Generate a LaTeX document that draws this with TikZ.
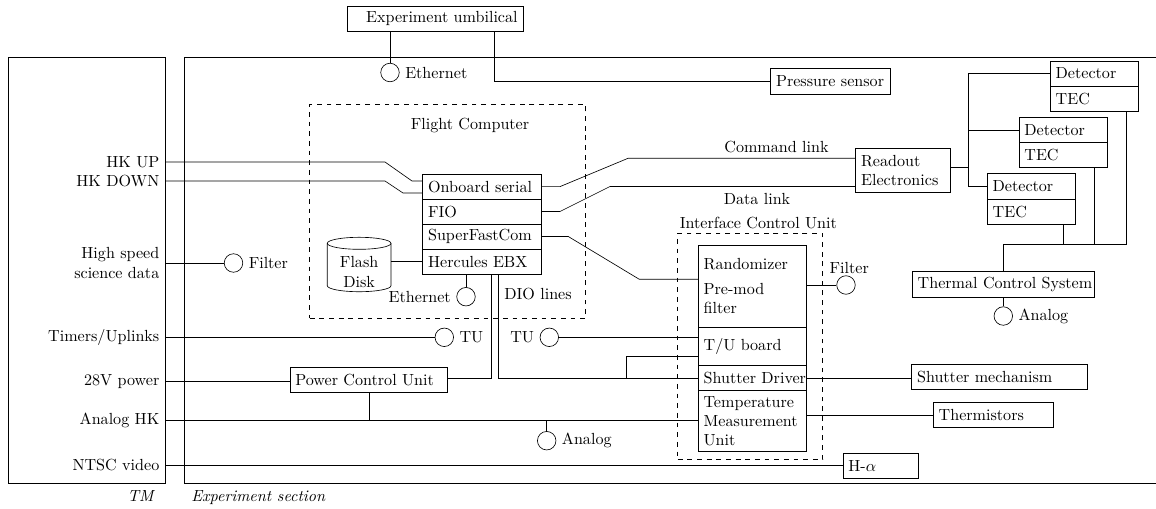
\documentclass[tikz,border=0pt]{standalone}
\usetikzlibrary{calc}
% one drawing unit
\newcommand\pxu{0.6211pt}
\tikzset{
  blk/.style={draw, rectangle, inner sep=0pt},
  txt/.style={inner sep=3.33pt, align=left},
  port/.style={draw, circle, minimum size={18.5*\pxu}, inner sep=0pt},
  grp/.style={draw, dashed, rectangle, inner sep=0pt},
}
% box from corner (x1,y1) to (x2,y2) with left-aligned text
\newcommand\sysbox[6]{%
  \node[blk, minimum width={(#4-#2)*\pxu}, minimum height={(#5-#3)*\pxu}] (#1) at ({(#2+#4)/2},{(#3+#5)/2}) {};
  \node[txt, anchor=west] (#1-t) at (#1.west) {#6};}
\begin{document}
\begin{tikzpicture}[x=\pxu, y=-\pxu]
\useasboundingbox (0,0) rectangle (1156,508);

% telemetry section and experiment section
\node[blk, minimum width={157*\pxu}, minimum height={426*\pxu}] (tm) at (86.5,270) {};
\draw (1160,57) -- (184,57) -- (184,483) -- (1160,483);
\node[anchor=base, inner sep=0pt] (tmcap) at (141.5,501.5) {\textit{TM}};
\node[anchor=base west, inner sep=0pt] (expcap) at (191,501.5) {\textit{Experiment section}};

% telemetry signals
\node[anchor=east] (hkup) at (165,162) {HK UP};
\node[anchor=east] (hkdn) at (165,181) {HK DOWN};
\node[anchor=east, align=right] (hsd) at (165,263) {High speed\\science data};
\node[anchor=east] (tim) at (165,337.3) {Timers/Uplinks};
\node[anchor=east] (p28) at (165,381.3) {28V power};
\node[anchor=east] (ahk) at (165,420) {Analog HK};
\node[anchor=east] (ntsc) at (165,465) {NTSC video};

% umbilical
\node[blk, minimum width={176*\pxu}, minimum height={25*\pxu}] (umb) at (435,18.5) {};
\node[txt, anchor=east] (umb-t) at (umb.east) {Experiment umbilical};

% groups
\node[grp, minimum width={276*\pxu}, minimum height={213.6*\pxu}] (fc) at (447.7,211.5) {};
\node (fcl) at (470,125) {Flight Computer};
\node[grp, minimum width={145*\pxu}, minimum height={226*\pxu}] (icu) at (750.2,346.3) {};
\node (icul) at (758.3,222.7) {Interface Control Unit};

% boxes
\sysbox{press}{770.7}{68.7}{890.7}{94}{Pressure sensor}
\sysbox{onb}{422.7}{174.3}{541.7}{199}{Onboard serial}
\sysbox{fio}{422.7}{199}{541.7}{224}{FIO}
\sysbox{sfc}{422.7}{224}{541.7}{249}{SuperFastCom}
\sysbox{herc}{422.7}{249}{541.7}{274}{Hercules EBX}
\sysbox{ro}{855.7}{148.7}{950}{192.7}{Readout\\Electronics}
\sysbox{d1}{1050.3}{61}{1138.3}{86}{Detector}
\sysbox{t1}{1050.3}{86}{1138.3}{111}{TEC}
\sysbox{d2}{1019}{117.3}{1107}{142.7}{Detector}
\sysbox{t2}{1019}{142.7}{1107}{167.3}{TEC}
\sysbox{d3}{987.3}{173.7}{1075.3}{199.3}{Detector}
\sysbox{t3}{987.3}{199.3}{1075.3}{224.3}{TEC}
\sysbox{tcs}{912.3}{271.7}{1094.3}{297}{Thermal Control System}
\sysbox{rnd}{698.3}{245.7}{806.3}{327}{Randomizer\\[3.5pt]Pre-mod\\filter}
\sysbox{tub}{698.3}{327}{806.3}{365}{T/U board}
\sysbox{shd}{698.3}{365}{806.3}{390.7}{Shutter Driver}
\sysbox{tmu}{698.3}{390.7}{806.3}{451.7}{Temperature\\Measurement\\Unit}
\sysbox{pcu}{290}{367.3}{447.7}{392.3}{Power Control Unit}
\sysbox{ssm}{911.7}{364.3}{1087.7}{389}{Shutter mechanism}
\sysbox{thm}{933.3}{402.7}{1053.3}{427.7}{Thermistors}
\sysbox{ha}{843}{453.3}{918.3}{478.3}{H-$\alpha$}

% flash disk
\draw (327.3,243.3) -- (327.3,285.7) arc[start angle=180, end angle=0, x radius=31.85, y radius=6] -- (391,243.3);
\draw (359.15,243.3) ellipse [x radius=31.85, y radius=6];
\node[align=center, inner sep=0pt, minimum width={63.7*\pxu}] (flash) at (359.15,272) {Flash\\Disk};

% connectors (ports)
\node[port] (eth1) at (390,72.5) {};
\node[anchor=west] (eth1l) at (eth1.east) {Ethernet};
\node[port] (filt1) at (233.5,263) {};
\node[anchor=west] (filt1l) at (filt1.east) {Filter};
\node[port] (eth2) at (466,296.7) {};
\node[anchor=east] (eth2l) at (eth2.west) {Ethernet};
\node[port] (tu1) at (444.3,337.3) {};
\node[anchor=west] (tu1l) at (tu1.east) {TU};
\node[port] (tu2) at (549.3,337.3) {};
\node[anchor=east] (tu2l) at (tu2.west) {TU};
\node[port] (an1) at (546.7,440.7) {};
\node[anchor=west] (an1l) at (an1.east) {Analog};
\node[port] (filt2) at (846,285) {};
\node (filt2l) at (849.3,267.7) {Filter};
\node[port] (an2) at (1003.3,316) {};
\node[anchor=west] (an2l) at (an2.east) {Analog};

% umbilical links
\draw (eth1.north) -- (eth1.north |- umb.south);
\draw (494,0 |- umb.south) |- (press.west);

% housekeeping
\draw (hkup.east) -- (385,162) -- (412,181) -- (onb.west |- 0,181);
\draw (hkdn.east) -- (385,181) -- (403,193) -- (onb.west |- 0,193);

% command and data links
\draw (onb.east) -- (560,186.6) -- (628,158.3) -- (ro.west |- 0,158.3);
\draw (fio.east) -- (560,211.5) -- (610,186.5) -- (ro.west |- 0,186.5);
\node (cmdl) at (776.5,146.7) {Command link};
\node (datl) at (757,198.7) {Data link};
\draw (sfc.east) -- (568.3,236.5) -- (639.3,279.3) -- (rnd.west |- 0,279.3);

% readout to detectors
\coordinate (trunk) at (968.7,167.3);
\draw (ro.east |- trunk) -- (trunk);
\draw (d1.west) -| (trunk) |- (d3.west);
\draw (d2.west) -- (d2.west -| trunk);

% TEC lines to thermal control
\coordinate (bus) at (1003.3,244.3);
\coordinate (t1d) at ([xshift={-12*\pxu}]t1.south east);
\coordinate (t2d) at ([xshift={-12.7*\pxu}]t2.south east);
\coordinate (t3d) at ([xshift={-12.3*\pxu}]t3.south east);
\draw (t1d) |- (bus) -- (tcs.north);
\draw (t2d) -- (t2d |- bus);
\draw (t3d) -- (t3d |- bus);
\draw (tcs.south) -- (an2.north);

% flight computer peripherals
\draw (herc.south -| eth2) -- (eth2.north);
\draw (herc.west) -- (herc.west -| flash.east);

% DIO lines
\draw (491.3,0 |- herc.south) |- (pcu.east |- shd.west);
\draw (498.3,0 |- herc.south) |- (shd.west);
\node (diol) at (538,294.3) {DIO lines};
\draw (626.7,0 |- shd.west) |- (tub.west |- 0,356);

% timers, power, analog, video
\draw (tu2.east) -- (tub.west |- tu2.east);
\draw (tim.east) -- (tu1.west);
\draw (p28.east) -- (pcu.west |- p28.east);
\draw (ahk.east) -- (tmu.west |- ahk.east);
\draw (pcu.south) -- (pcu.south |- ahk.east);
\draw (an1.north) -- (an1.north |- ahk.east);
\draw (ntsc.east) -- (ha.west |- ntsc.east);
\draw (hsd.east) -- (filt1.west);

% ICU outputs
\draw (shd.east) -- (shd.east -| ssm.west);
\draw (thm.west) -- (thm.west -| tmu.east);
\draw (rnd.east |- filt2) -- (filt2.west);
\end{tikzpicture}
\end{document}
